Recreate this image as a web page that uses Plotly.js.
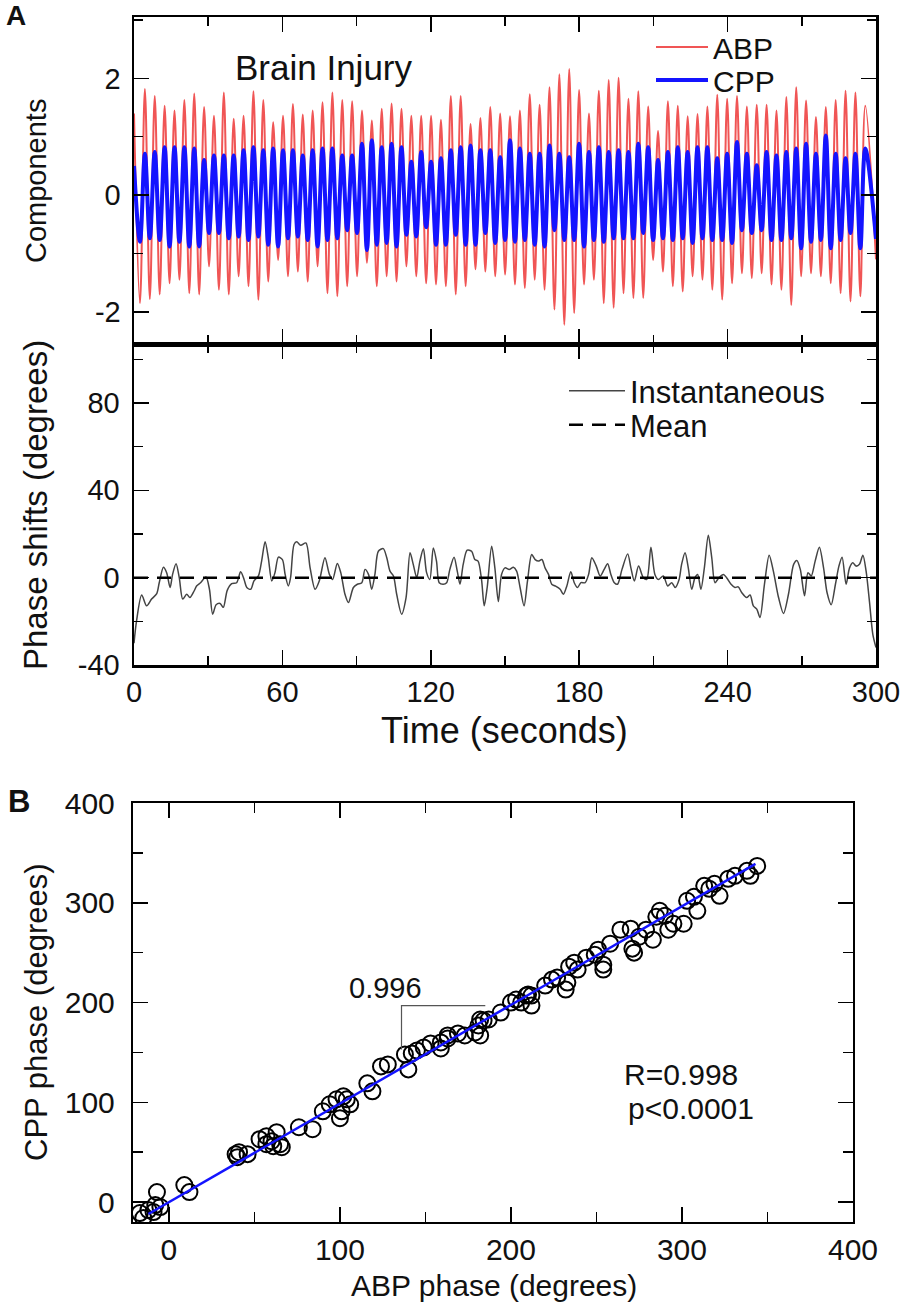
<!DOCTYPE html>
<html>
<head>
<meta charset="utf-8">
<script src="https://cdn.plot.ly/plotly-3.0.1.min.js"></script>
<style>html,body{margin:0;padding:0;background:#fff;}#chart{width:903px;height:1313px;}</style>
</head>
<body>
<div id="chart"></div>
<script>
// ---------- Panel A (top): oscillatory components ----------
const firstPeakTime = 4.4;      // seconds
const cyclePeriod = 3.99;       // seconds
const abpStart = 1.4, abpEnd = -1.1;
const cppStart = 0.5, cppEnd = -0.75;
const abpPeaks = [1.82,1.70,1.53,1.45,1.63,1.74,1.51,1.36,1.76,1.31,
  1.36,1.78,1.63,1.25,1.36,1.56,1.38,1.45,1.59,1.76,
  1.63,1.61,1.45,1.28,1.48,1.57,1.48,1.36,1.36,1.36,
  1.29,1.70,1.70,1.22,1.32,1.51,1.40,1.35,1.45,1.73,
  1.55,1.85,2.07,2.16,1.80,1.40,1.79,1.97,2.01,1.65,
  1.78,1.52,1.10,1.61,1.53,1.35,1.39,1.52,1.72,1.65,
  1.70,1.52,1.55,1.55,1.45,1.68,1.85,1.62,1.34,1.51,
  1.63,1.79,1.76,1.53];
const abpTroughs = [-1.85,-1.78,-1.70,-1.51,-1.45,-1.68,-1.70,-1.22,-1.62,-1.70,
  -1.39,-1.56,-1.79,-1.48,-1.11,-1.39,-1.31,-1.48,-1.22,-1.68,
  -1.73,-1.56,-1.39,-1.16,-1.56,-1.39,-1.48,-1.22,-1.39,-1.51,
  -1.53,-1.56,-1.70,-1.56,-1.27,-1.31,-1.39,-1.36,-1.53,-1.59,
  -1.45,-1.62,-1.96,-2.22,-2.02,-1.53,-1.45,-1.85,-1.93,-1.68,
  -1.76,-1.76,-1.11,-1.31,-1.56,-1.65,-1.39,-1.45,-1.62,-1.79,
  -1.51,-1.34,-1.42,-1.34,-1.53,-1.62,-1.88,-1.39,-1.34,-1.39,
  -1.51,-1.68,-1.82,-1.73];
const cppPeaks = [0.71,0.74,0.82,0.82,0.82,0.80,0.60,0.68,0.68,0.68,
  0.77,0.82,0.77,0.80,0.77,0.77,0.68,0.77,0.80,0.80,
  0.68,0.68,0.88,0.94,0.82,0.88,0.82,0.57,0.74,0.57,
  0.63,0.77,0.82,0.85,0.77,0.77,0.65,0.94,0.80,0.71,
  0.71,0.85,0.71,0.65,0.88,0.74,0.82,0.74,0.77,0.74,
  0.88,0.82,0.60,0.74,0.82,0.74,0.82,0.82,0.63,0.71,
  0.91,0.71,0.51,0.74,0.68,0.74,0.80,0.88,0.71,1.02,
  0.71,0.63,0.71,0.80];
const cppTroughs = [-0.80,-0.74,-0.77,-0.88,-0.80,-0.88,-0.88,-0.65,-0.65,-0.74,
  -0.71,-0.77,-0.71,-0.85,-0.88,-0.74,-0.71,-0.77,-0.88,-0.77,
  -0.74,-0.60,-0.65,-0.94,-0.85,-0.82,-0.88,-0.68,-0.71,-0.55,
  -0.85,-0.85,-0.68,-0.85,-0.85,-0.65,-0.82,-0.77,-0.80,-0.77,
  -0.85,-0.88,-0.60,-0.77,-0.77,-0.88,-0.77,-0.80,-0.74,-0.74,
  -0.74,-0.65,-0.77,-0.74,-0.77,-0.74,-0.82,-0.74,-0.77,-0.77,
  -0.82,-0.60,-0.65,-0.60,-0.77,-0.77,-0.74,-0.91,-0.80,-0.77,
  -0.91,-0.77,-0.65,-0.91];

// ---------- Panel A (bottom): phase shifts ----------
const phaseTime = [0,1.0,3.1,5.1,7.1,9.2,10.2,11.9,13.2,14.6,15.6,17.0,18.3,19.7,21.3,22.6,24.3,25.3,26.9,29.1,
  30.5,31.8,33.2,34.8,36.1,37.7,39.5,41.5,43.1,44.5,45.6,47.2,48.5,50.3,51.6,53.0,54.3,55.7,57.0,58.4,
  60.0,61.1,62.4,63.3,64.7,65.8,67.4,69.5,71.2,73.2,74.9,77.2,79.0,80.3,82.2,83.6,85.3,86.7,88.7,90.3,
  92.1,93.4,94.8,96.1,97.4,98.8,100.8,102.2,103.5,104.9,106.2,108.2,110.0,111.6,112.9,114.3,115.6,117.0,118.3,119.6,
  121.0,122.3,123.4,125.0,126.4,127.7,129.4,130.7,131.8,133.1,134.7,136.5,137.8,139.1,140.5,141.6,142.8,144.6,145.9,147.3,
  148.6,150.0,151.7,153.4,154.7,156.1,157.7,159.1,160.8,162.2,163.5,164.9,166.2,167.6,168.9,170.3,172.3,173.6,175.0,176.6,
  178.0,179.3,180.7,182.4,183.8,185.1,186.9,188.5,190.1,191.5,192.8,194.2,195.5,197.3,199.6,200.9,202.3,204.0,205.9,207.3,
  209.0,210.6,212.0,214.0,215.8,217.4,218.8,220.4,221.4,222.8,224.1,225.5,226.8,227.9,229.2,230.6,232.2,233.6,234.9,236.5,
  238.3,239.6,241.4,243.0,244.3,245.7,247.7,249.1,250.4,251.8,253.1,254.9,256.8,258.5,260.6,262.6,264.6,266.7,268.0,269.4,
  271.1,272.5,273.8,275.4,277.1,278.8,280.2,281.9,283.6,285.0,286.3,287.9,289.3,290.6,292.0,293.3,294.7,296.0,297.4,298.7,300];
const phaseValue = [-30,-20,-7.9,-12.9,-9.8,-7.3,-2.3,4.8,2.3,-4.5,1.5,6.4,0,-9.8,-7.6,-9.1,-6.1,-3.8,-2.3,0.3,
  -5.3,-16.7,-12.4,-11.8,-13.6,-5.8,-2.7,-2.3,2.7,-0.8,-4.5,-5.3,-1.5,0.8,7.6,16.4,9.1,-1.5,2.3,9.4,
  8.3,1.5,-3.8,0,15.2,16.4,14.8,15.9,4.5,-5.3,-1.5,9.1,1.5,-0.8,6.5,2.3,-7.6,-11.4,-4.5,-3.0,
  -2.3,3.8,1.5,-5.3,1.5,12.1,13.3,9.1,3.0,0.8,-7.6,-16.7,-9.1,11.4,6.1,0,7.6,13.3,2.3,-0.8,
  13.6,7.6,-2.3,-3.0,-2.3,3.8,9.4,3.0,-3.0,6.1,12.6,12.1,8.3,7.6,-0.8,-12.9,-4.5,14.4,4.5,-10.9,
  1.5,4.5,3.8,4.8,3.0,-4.5,-12.9,-1.5,10.6,8.3,7.6,8.3,4.5,1.5,-3.0,-3.8,-5.3,-7.6,-3.8,2.7,
  -2.3,-4.5,-2.3,-2.3,1.5,9.1,5.3,0.8,3.8,6.4,1.5,-2.3,-3.0,3.8,10.9,4.5,-1.5,5.3,0,-0.8,
  13.9,1.5,-0.8,0.8,-3.8,-2.3,-4.5,-0.8,6.1,11.4,4.5,-5.3,0,1.5,-5.3,4.5,19.4,9.1,-2.3,0,
  1.5,0,-3.0,-4.5,-4.2,-6.8,-9.1,-7.9,-12.9,-14.4,-18.2,-3.0,10.3,3.0,-9.1,-16.4,-7.6,6.1,7.9,3.8,
  -8.3,2.3,0.8,7.6,13.9,4.5,-6.8,-12.4,-3.0,5.3,9.4,-3.0,4.5,6.8,5.3,6.1,10.3,3.0,-11.4,-25.8,-32];
const meanTime = [0, 300];
const meanValue = [0, 0];

// ---------- Panel B: phase scatter ----------
const abpPhase = [-17,-12,-8,-7,-5,-9,-15,9,12,
  40,41,46,39,53,57,60,63,65,66,61,57,76,84,
  90,94,98,101,104,102,100,106,116,119,124,128,140,
  138,142,145,149,153,159,159,163,163,169,173,179,181,184,187,182,
  194,200,203,206,209,212,210,220,224,227,232,234,237,239,
  244,249,254,251,258,264,270,272,275,279,283,287,290,292,285,295,
  301,303,307,309,313,316,319,322,327,331,338,340,344,
  271,254,233,212,182];
const cppPhase = [-11,-8,-3,10,-5,-10,-16,17,10,
  45,50,48,48,63,66,61,70,58,55,56,58,75,73,
  91,98,103,91,103,106,84,98,119,111,136,138,133,
  148,149,152,155,159,160,154,167,164,169,167,170,177,182,183,167,
  190,200,203,200,207,197,208,217,223,225,213,236,240,233,
  245,248,233,253,259,273,274,250,266,273,263,292,287,273,286,279,
  279,302,306,292,317,314,319,307,324,327,332,327,337,
  254,238,220,207,183];
const fitX = [-12, 343];
const fitY = [-12, 339];
const slopeX = [136, 136, 185];
const slopeY = [153, 197, 197];

// ---------- build component series from extremes ----------
function buildSeries(start, troughs, peaks, end) {
  const t = [0], v = [start];
  for (let k = 0; k < peaks.length; k++) {
    const tp = firstPeakTime + k * cyclePeriod;
    t.push(tp - cyclePeriod / 2); v.push(troughs[k]);
    t.push(tp); v.push(peaks[k]);
  }
  t.push(300); v.push(end);
  return {t, v};
}
const abp = buildSeries(abpStart, abpTroughs, abpPeaks, abpEnd);
const cpp = buildSeries(cppStart, cppTroughs, cppPeaks, cppEnd);

const FONT = 'Liberation Sans, Arial, sans-serif';

const traces = [
  {x: abp.t, y: abp.v, type: 'scatter', mode: 'lines', name: 'ABP',
   line: {color: 'rgb(240,85,85)', width: 2, shape: 'spline', smoothing: 1},
   xaxis: 'x', yaxis: 'y', legend: 'legend'},
  {x: cpp.t, y: cpp.v, type: 'scatter', mode: 'lines', name: 'CPP',
   line: {color: 'rgb(20,20,255)', width: 4, shape: 'spline', smoothing: 1},
   xaxis: 'x', yaxis: 'y', legend: 'legend3'},
  {x: phaseTime, y: phaseValue, type: 'scatter', mode: 'lines', name: 'Instantaneous',
   line: {color: '#444', width: 1.5, shape: 'spline', smoothing: 0.8},
   xaxis: 'x2', yaxis: 'y2', legend: 'legend2'},
  {x: meanTime, y: meanValue, type: 'scatter', mode: 'lines', name: 'Mean',
   line: {color: '#000', width: 2.5, dash: '14px,9px'},
   xaxis: 'x2', yaxis: 'y2', legend: 'legend4'},
  {x: abpPhase, y: cppPhase, type: 'scatter', mode: 'markers', showlegend: false,
   marker: {symbol: 'circle-open', size: 16, color: '#000', line: {width: 2, color: '#000'}},
   xaxis: 'x3', yaxis: 'y3'},
  {x: fitX, y: fitY, type: 'scatter', mode: 'lines', showlegend: false,
   line: {color: 'rgb(20,20,255)', width: 2.5}, xaxis: 'x3', yaxis: 'y3'},
  {x: slopeX, y: slopeY, type: 'scatter', mode: 'lines', showlegend: false,
   line: {color: '#555', width: 1.2}, xaxis: 'x3', yaxis: 'y3'}
];

function minor(dtick, len) {
  return {dtick: dtick, tick0: 0, ticks: 'inside', ticklen: len || 9, tickwidth: 1.5, tickcolor: '#000', showgrid: false};
}
const axA = {showline: true, linewidth: 2.5, linecolor: '#000', mirror: 'ticks', showgrid: false, zeroline: false,
  ticks: 'inside', ticklen: 15, tickwidth: 1.5, tickcolor: '#000',
  tickfont: {family: FONT, size: 29, color: '#111'}};
const axB = Object.assign({}, axA, {linewidth: 2.2, tickfont: {family: FONT, size: 30, color: '#111'}});

function ann(text, x, y, size, extra) {
  return Object.assign({text: text, xref: 'paper', yref: 'paper', x: x / 903, y: 1 - y / 1313,
    xanchor: 'center', yanchor: 'middle', showarrow: false,
    font: {family: FONT, size: size, color: '#111'}}, extra || {});
}
function leg(x, y, size, iw) {
  return {x: x / 903, y: 1 - y / 1313, xanchor: 'left', yanchor: 'middle', bgcolor: 'rgba(0,0,0,0)',
    font: {family: FONT, size: size, color: '#111'}, itemwidth: iw, borderwidth: 0};
}

const layout = {
  width: 903, height: 1313,
  margin: {l: 0, r: 0, t: 0, b: 0},
  paper_bgcolor: '#fff', plot_bgcolor: '#fff',
  font: {family: FONT, color: '#111'},
  xaxis: Object.assign({}, axA, {domain: [0.1484, 0.9701], anchor: 'y', range: [0, 300],
    tickvals: [0, 60, 120, 180, 240, 300], showticklabels: false, minor: minor(30)}),
  yaxis: Object.assign({}, axA, {domain: [0.738, 0.987], anchor: 'x', range: [-2.55, 3.05],
    tickvals: [-2, 0, 2], ticktext: ['-2', '0', '2'], minor: minor(1), ticklabelstandoff: 5}),
  xaxis2: Object.assign({}, axA, {domain: [0.1484, 0.9701], anchor: 'y2', range: [0, 300],
    tickvals: [0, 60, 120, 180, 240, 300], minor: minor(30)}),
  yaxis2: Object.assign({}, axA, {domain: [0.4935, 0.738], anchor: 'x2', range: [-40, 107],
    tickvals: [-40, 0, 40, 80], ticktext: ['-40', '0', '40', '80'], minor: minor(20), ticklabelstandoff: 6}),
  xaxis3: Object.assign({}, axB, {domain: [0.1473, 0.9446], anchor: 'y3', range: [-21, 400],
    tickvals: [0, 100, 200, 300, 400], minor: minor(50, 10)}),
  yaxis3: Object.assign({}, axB, {domain: [0.0693, 0.3884], anchor: 'x3', range: [-20, 400],
    tickvals: [0, 100, 200, 300, 400], minor: minor(50, 10), ticklabelstandoff: 10}),
  showlegend: true,
  legend: leg(651, 47, 30, 52),
  legend3: leg(651, 80, 30, 52),
  legend2: leg(564, 391, 31, 56),
  legend4: leg(564, 425, 31, 56),
  annotations: [
    ann('<b>A</b>', 16, 15, 28),
    ann('<b>B</b>', 19, 801, 31),
    ann('Components', 36, 181, 29, {textangle: -90}),
    ann('Phase shifts (degrees)', 36, 505, 33, {textangle: -90}),
    ann('Time (seconds)', 505, 731, 36),
    ann('CPP phase (degrees)', 36, 1012, 31, {textangle: -90}),
    ann('ABP phase (degrees)', 494, 1285, 30),
    {text: 'Brain Injury', xref: 'x', yref: 'y', x: 77, y: 2.18, showarrow: false,
     xanchor: 'center', yanchor: 'middle', font: {family: FONT, size: 35, color: '#111'}},
    {text: '0.996', xref: 'x3', yref: 'y3', x: 126.5, y: 215, showarrow: false,
     xanchor: 'center', yanchor: 'middle', font: {family: FONT, size: 29, color: '#111'}},
    {text: 'R=0.998', xref: 'x3', yref: 'y3', x: 265, y: 128, xanchor: 'left', yanchor: 'middle', showarrow: false,
     font: {family: FONT, size: 30, color: '#111'}},
    {text: 'p<0.0001', xref: 'x3', yref: 'y3', x: 267, y: 94, xanchor: 'left', yanchor: 'middle', showarrow: false,
     font: {family: FONT, size: 30, color: '#111'}}
  ]
};

Plotly.newPlot('chart', traces, layout, {staticPlot: true, displayModeBar: false});
</script>
</body>
</html>
